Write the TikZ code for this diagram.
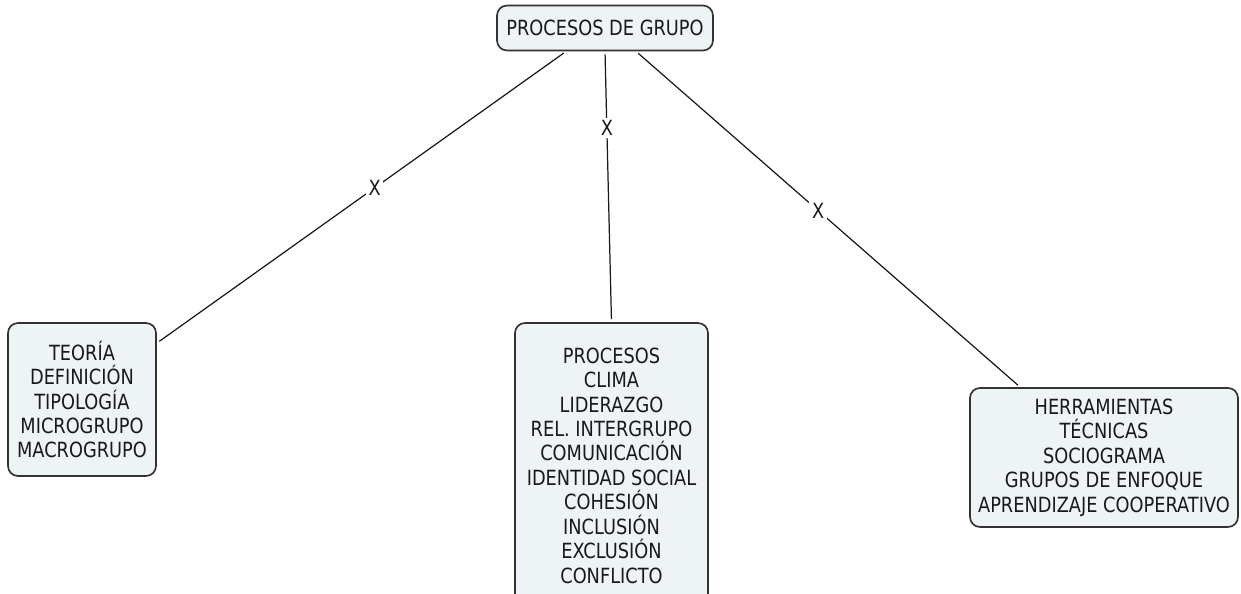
\documentclass[tikz,border=0pt]{standalone}
\usepackage{fontspec}
\setmainfont[FakeStretch=0.85]{DejaVu Sans}
\definecolor{boxfill}{RGB}{238,243,246}
\definecolor{boxline}{RGB}{50,50,50}
\definecolor{inkgray}{RGB}{25,25,25}
\begin{document}
\begin{tikzpicture}[x=0.02cm, y=-0.02cm,
    concept/.style={draw=boxline, line width=0.95pt, fill=boxfill, rounded corners=0.2cm,
        align=center, text=inkgray, font=\fontsize{11.9}{13.9}\selectfont},
    link/.style={draw=inkgray, line width=0.7pt, shorten <=1.7pt, shorten >=1.7pt},
    xlabel/.style={fill=white, inner sep=1.5pt, text=inkgray, font=\fontsize{11.9}{13.9}\selectfont}]
\useasboundingbox (0,0) rectangle (1241,594);
\node[concept, minimum width=4.32cm, minimum height=0.9cm] (grupo) at (605,28) {PROCESOS DE GRUPO};
\node[concept, minimum width=2.96cm, minimum height=3.06cm] (teoria) at (82,399.5)
    {TEORÍA\\DEFINICIÓN\\TIPOLOGÍA\\MICROGRUPO\\MACROGRUPO};
\node[concept, minimum width=3.86cm, minimum height=5.7cm] (procesos) at (611.5,465.5)
    {PROCESOS\\CLIMA\\LIDERAZGO\\REL. INTERGRUPO\\COMUNICACIÓN\\IDENTIDAD SOCIAL\\COHESIÓN\\INCLUSIÓN\\EXCLUSIÓN\\CONFLICTO};
\node[concept, minimum width=5.36cm, minimum height=2.78cm] (herramientas) at (1104,457.5)
    {HERRAMIENTAS\\TÉCNICAS\\SOCIOGRAMA\\GRUPOS DE ENFOQUE\\APRENDIZAJE COOPERATIVO};

\draw[link](grupo.211)--node[xlabel, pos=0.468]{X}(teoria.37);
\draw[link](grupo.south)--node[xlabel, pos=0.283]{X}(procesos.north);
\draw[link](grupo.-37)--node[xlabel, pos=0.474]{X}(herramientas.140);
\end{tikzpicture}
\end{document}
